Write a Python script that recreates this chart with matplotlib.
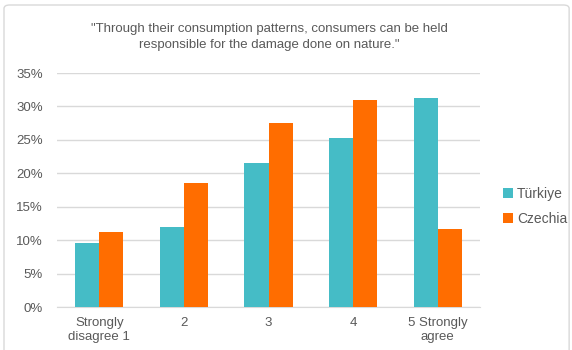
import numpy as np
import matplotlib.pyplot as plt
from matplotlib.patches import FancyBboxPatch
from matplotlib.ticker import PercentFormatter

categories = ["Strongly\ndisagree 1", "2", "3", "4", "5 Strongly\nagree"]
turkiye = [9.6, 12.0, 21.6, 25.3, 31.3]
czechia = [11.2, 18.6, 27.5, 31.0, 11.6]
series_names = ["Türkiye", "Czechia"]
title = ("\"Through their consumption patterns, consumers can be held\n"
         "responsible for the damage done on nature.\"")

plt.rcParams["font.family"] = ["Liberation Sans", "DejaVu Sans"]
text_color = "#595959"

fig = plt.figure(figsize=(5.72, 3.5), dpi=100)
# light rounded frame around the whole chart
frame = FancyBboxPatch((4 / 572, -0.02), 0.995 - 4 / 572, 1.0 - 5 / 350 + 0.02,
                       boxstyle="round,pad=0,rounding_size=0.01",
                       transform=fig.transFigure, facecolor="none",
                       edgecolor="#d9d9d9", linewidth=1.0, zorder=-1)
fig.patches.append(frame)
ax = fig.add_axes([57 / 572, 1 - 307 / 350, (480 - 57) / 572, (307 - 73) / 350])
ax.patch.set_alpha(0)

x = np.arange(len(categories))
w = 0.285
ax.bar(x - w / 2, turkiye, w, color="#45bcc6", label=series_names[0], zorder=3)
ax.bar(x + w / 2, czechia, w, color="#ff6d00", label=series_names[1], zorder=3)

ax.set_xlim(-0.5, len(categories) - 0.5)
ax.set_ylim(0, 35)
ax.set_yticks(np.arange(0, 36, 5))
ax.yaxis.set_major_formatter(PercentFormatter(decimals=0))
ax.grid(axis="y", color="#d9d9d9", linewidth=1.0, zorder=0)
ax.set_xticks(x)
ax.set_xticklabels(categories)
for s in ["top", "right", "left"]:
    ax.spines[s].set_visible(False)
ax.spines["bottom"].set_color("#d9d9d9")
ax.tick_params(axis="both", length=0, labelsize=9.5, colors=text_color)
ax.tick_params(axis="y", pad=10)
ax.tick_params(axis="x", pad=7)

fig.text(269 / 572, 1 - 37 / 350, title, ha="center", va="center",
         fontsize=9.5, color=text_color, linespacing=1.45)

ax.legend(loc="center left", bbox_to_anchor=(1.025, 0.43), frameon=False,
          fontsize=10, handlelength=0.7, handleheight=0.7, handletextpad=0.3,
          labelcolor=text_color, labelspacing=0.8)

fig.savefig("out.png", dpi=100)
